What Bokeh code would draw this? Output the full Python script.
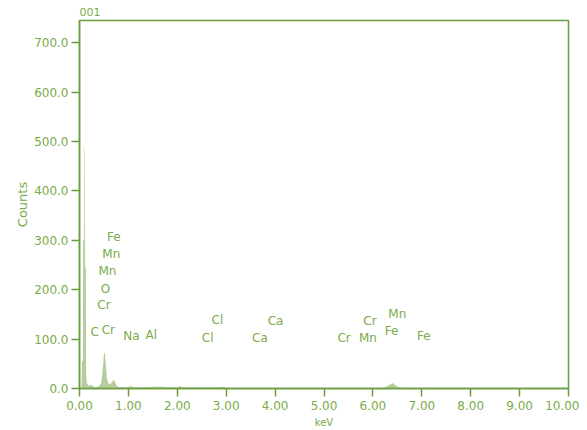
from bokeh.plotting import figure
from bokeh.models import Range1d, FixedTicker, NumeralTickFormatter, ColumnDataSource, LabelSet
from bokeh.core.properties import value
from bokeh.embed import file_html
from bokeh.resources import INLINE

# Spectrum outline (keV, counts)
kev = [0.00, 0.04, 0.05, 0.07, 0.075, 0.095, 0.10, 0.11, 0.115, 0.13, 0.135, 0.15, 0.20, 0.24, 0.28,
       0.34, 0.40, 0.44, 0.46, 0.48, 0.50, 0.52, 0.54, 0.56, 0.60, 0.64, 0.68, 0.70, 0.72, 0.76,
       0.80, 0.90, 1.00, 1.04, 1.10, 1.40, 1.60, 1.80, 2.00, 2.06, 2.10, 2.40, 2.70, 2.90, 2.95,
       3.00, 3.20, 3.60, 4.00, 4.60, 5.00, 5.60, 6.20, 6.30, 6.40, 6.50, 6.60, 7.00, 7.05, 7.10,
       8.00, 10.00]
counts = [0, 0, 55, 55, 300, 300, 485, 485, 245, 245, 30, 10, 5, 8, 4,
          3, 5, 10, 25, 45, 70, 73, 45, 20, 8, 10, 15, 18, 14, 6,
          3, 3, 3, 5, 3, 3, 4, 3, 3, 5, 3, 3, 3, 3, 4,
          1, 1, 1, 1, 1, 1, 1, 1, 5, 11, 4, 1, 1, 2, 1,
          0, 0]

# Element labels (keV, counts position)
lbl_text = ["Fe", "Mn", "Mn", "O", "Cr", "C", "Cr", "Na", "Al", "Cl", "Cl", "Ca", "Ca",
            "Cr", "Cr", "Mn", "Mn", "Fe", "Fe"]
lbl_x = [0.70, 0.65, 0.57, 0.53, 0.50, 0.31, 0.59, 1.06, 1.47, 2.82, 2.62, 4.01, 3.69,
         5.41, 5.94, 5.90, 6.50, 6.38, 7.04]
lbl_y = [306, 272, 237, 202, 169, 115, 119, 106, 108, 139, 103, 137, 103,
         103, 137, 103, 151, 117, 106]

x_ticks = [0, 1, 2, 3, 4, 5, 6, 7, 8, 9, 10]
y_ticks = [0, 100, 200, 300, 400, 500, 600, 700]

AXIS = "#6a9d3c"
TEXT = "#7aab4a"
FILL = "#b5cd9c"
FONT = "DejaVu Sans"

p = figure(width=579, height=430, output_backend="svg", toolbar_location=None,
           x_range=Range1d(0, 10), y_range=Range1d(0, 745),
           min_border_left=79, min_border_right=11, min_border_top=16, min_border_bottom=42,
           title="001", x_axis_label="keV", y_axis_label="Counts")

p.varea(x=kev, y1=[0] * len(kev), y2=counts, fill_color=FILL, fill_alpha=1.0)

src = ColumnDataSource(dict(x=lbl_x, y=lbl_y, t=lbl_text))
p.add_layout(LabelSet(x="x", y="y", text="t", source=src, text_align="center",
                      text_baseline="middle", text_font=value(FONT),
                      text_font_size="12px", text_color=TEXT))

p.title.text_font = FONT
p.title.text_font_size = "11px"
p.title.text_font_style = "normal"
p.title.text_color = TEXT
p.title.align = "left"

p.xgrid.visible = False
p.ygrid.visible = False
p.outline_line_color = AXIS
p.outline_line_width = 1.5
p.outline_line_alpha = 1.0

p.xaxis.ticker = FixedTicker(ticks=x_ticks)
p.yaxis.ticker = FixedTicker(ticks=y_ticks)
p.xaxis.formatter = NumeralTickFormatter(format="0.00")
p.yaxis.formatter = NumeralTickFormatter(format="0.0")

for ax in (p.xaxis, p.yaxis):
    ax.axis_line_color = AXIS
    ax.axis_line_width = 1.5
    ax.major_tick_line_color = AXIS
    ax.major_tick_line_width = 1.5
    ax.major_tick_out = 8
    ax.major_tick_in = 0
    ax.minor_tick_line_color = None
    ax.major_label_text_color = TEXT
    ax.major_label_text_font = FONT
    ax.major_label_text_font_size = "12px"
    ax.axis_label_text_color = TEXT
    ax.axis_label_text_font = FONT
    ax.axis_label_text_font_style = "normal"

p.xaxis.axis_label_text_font_size = "10px"
p.xaxis.axis_label_standoff = 4
p.xaxis.major_label_standoff = 4
p.yaxis.axis_label_text_font_size = "13px"
p.yaxis.axis_label_standoff = 1
p.yaxis.major_label_standoff = 3

open("out.html", "w").write(file_html(p, INLINE))
